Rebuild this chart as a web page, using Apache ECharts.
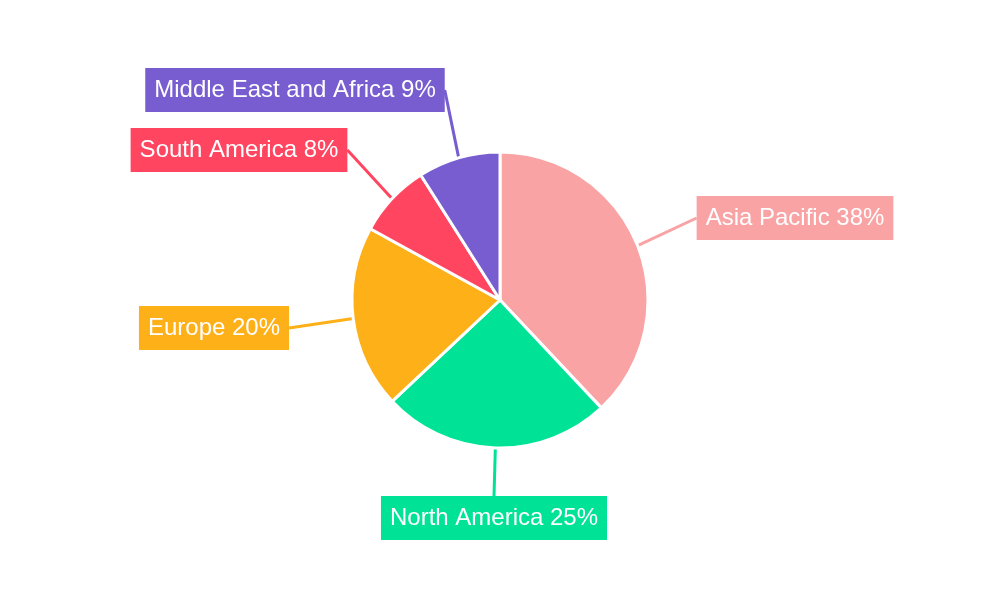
<!DOCTYPE html>
<html>
<head>
<meta charset="utf-8">
<script src="https://cdn.jsdelivr.net/npm/echarts@6/dist/echarts.min.js"></script>
<style>html,body{margin:0;padding:0;background:#fff}#chart{width:1000px;height:600px}</style>
</head>
<body>
<div id="chart"></div>
<script>
const regions = ['Asia Pacific', 'North America', 'Europe', 'South America', 'Middle East and Africa'];
const shares = [38, 25, 20, 8, 9];
const colors = ['#F9A3A4', '#00E396', '#FEB019', '#FF4560', '#775DD0'];
// label box centres
const labelPos = [[795, 218], [494, 518], [214, 328], [239, 150], [295, 90]];

const chart = echarts.init(document.getElementById('chart'));
chart.setOption({
  animation: false,
  series: [{
    type: 'pie',
    center: [500, 300],
    radius: [0, 148],
    startAngle: 90,
    clockwise: true,
    data: regions.map((r, i) => ({
      name: r, value: shares[i],
      itemStyle: {color: colors[i]},
      label: {backgroundColor: colors[i]},
      labelLine: {lineStyle: {color: colors[i]}}
    })),
    itemStyle: {borderColor: '#fff', borderWidth: 3},
    label: {
      show: true,
      position: 'outside',
      formatter: '{b} {c}%',
      color: '#fff',
      fontFamily: '"Liberation Sans", Arial, sans-serif',
      fontSize: 24,
      lineHeight: 26,
      padding: [11, 9, 7, 9]
    },
    labelLine: {show: true, length: 30, length2: 0, smooth: false, lineStyle: {width: 3}},
    labelLayout: function (p) {
      const pos = labelPos[p.dataIndex];
      return {x: pos[0], y: pos[1], align: 'center', verticalAlign: 'middle'};
    },
    emphasis: {disabled: true}
  }]
});
</script>
</body>
</html>
